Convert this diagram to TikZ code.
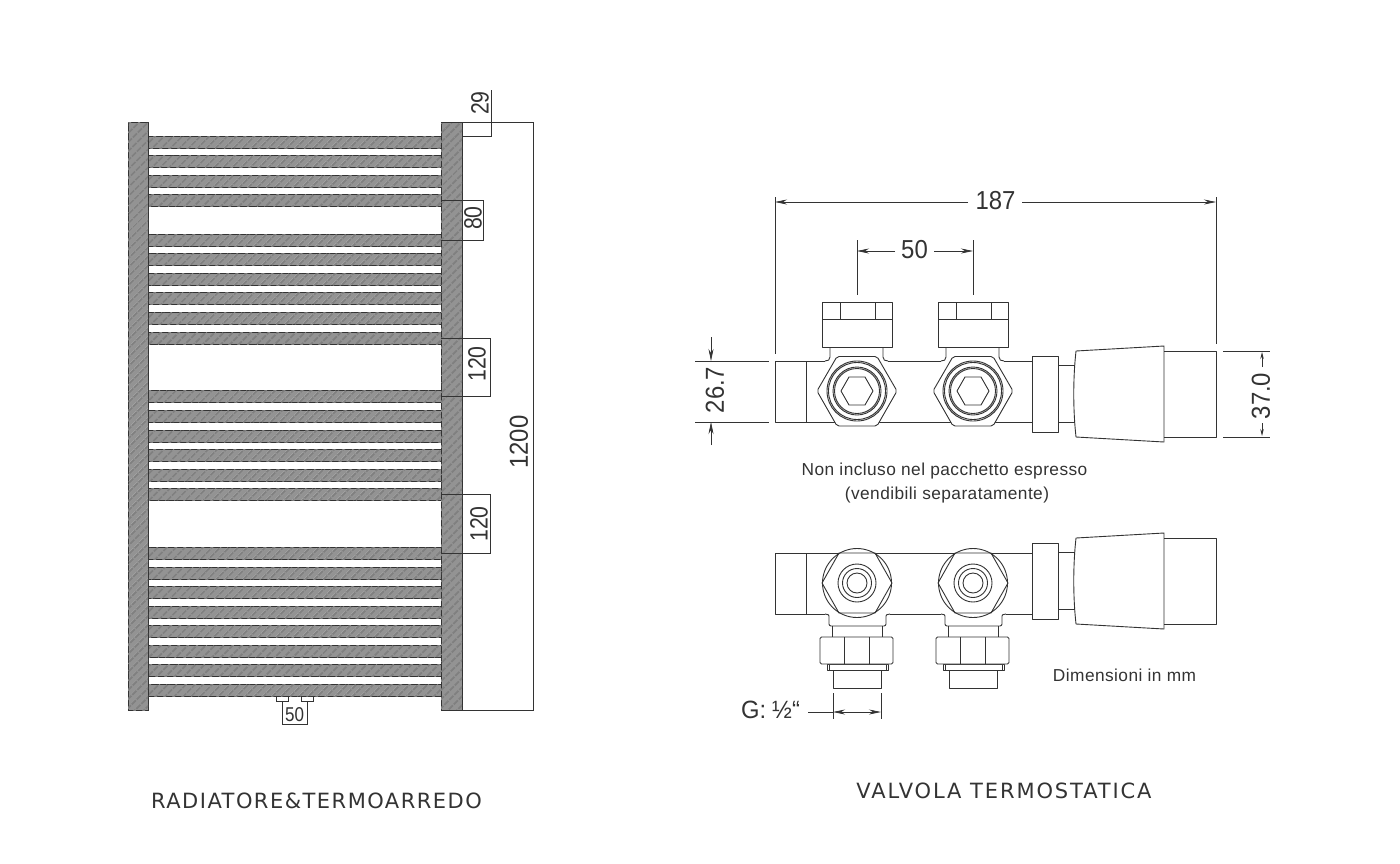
\documentclass[tikz,border=0pt]{standalone}
\usepackage{fontspec}
\usepackage{graphicx}
\setmainfont{Liberation Sans}
\newfontfamily\capfont{DejaVu Sans}
\usetikzlibrary{arrows.meta,patterns.meta}
\definecolor{ink}{HTML}{333333}
\definecolor{hatchbg}{HTML}{939393}
\definecolor{hatchdk}{HTML}{808080}
\newcommand{\nar}[2][.85]{\scalebox{#1}[1]{#2}}
\tikzset{
  hatched/.style={draw=ink,line width=0.8pt,fill=hatchbg,
    postaction={pattern={Lines[angle=45,distance=6.5pt,line width=2pt]},pattern color=hatchdk}},
  part/.style={draw=ink,line width=0.9pt,line join=round},
  partw/.style={part,fill=white},
  dim/.style={draw=ink,line width=0.7pt},
  tip/.style={dim,-{Stealth[length=12pt,width=5pt]}},
  tipsm/.style={dim,-{Stealth[length=7pt,width=3.5pt]}},
  dimtxt/.style={text=ink,font=\fontsize{26}{26}\selectfont,inner sep=0pt},
  dimsm/.style={text=ink,font=\fontsize{25}{25}\selectfont,inner sep=0pt},
  note/.style={text=ink,font=\fontsize{17.3}{19}\selectfont\addfontfeatures{LetterSpace=2.5},inner sep=0pt},
  captxt/.style={text=ink,inner sep=0pt}
}
\newcommand{\topvalve}[1]{%
  \begin{scope}[shift={(#1,0)}]
    \draw[part] (-35,302) rectangle (35,347);
    \draw[part] (-35,319) -- (35,319) (-17,302) -- (-17,319) (18,302) -- (18,319);
    \draw[part] (-27,347) -- (-27,357) .. controls (-27,360) and (-29,361) .. (-32,361);
    \draw[part] (26,347) -- (26,357) .. controls (26,360) and (28,361) .. (31,361);
    \draw[partw,rounded corners=2pt] (-40,391) -- (-20,356.5) -- (20,356.5) -- (40,391) -- (20,426) -- (-20,426) -- cycle;
    \draw[part] (0,391) circle (30) (0,391) circle (28.5) (0,391) circle (24) (0,391) circle (22.5);
    \draw[part] (-16,391) -- (-8,377) -- (8,377) -- (16,391) -- (8,405) -- (-8,405) -- cycle;
  \end{scope}}
\newcommand{\botvalve}[1]{%
  \begin{scope}[shift={(#1,0)}]
    \draw[part] (-24,670) rectangle (24,688);
    \draw[part] (-30,664) rectangle (31,670);
    \draw[part] (-28,664) -- (-28,670) (29,664) -- (29,670);
    \draw[partw,rounded corners=1.5pt] (-37,637) rectangle (36,664);
    \draw[part] (-13,637) -- (-13,664) (12,637) -- (12,664);
    \draw[part] (-25,626) -- (-25,637) (25,626) -- (25,637);
    \draw[part,rounded corners=2pt] (-32,614) .. controls (-29,614) and (-28,615) .. (-28,618) -- (-28,626) -- (29,626) -- (29,618) .. controls (29,615) and (30,614) .. (33,614);
    \draw[partw] (0,583) circle (34.5);
    \draw[part] (-35,583) -- (-18,553) -- (18,553) -- (35,583) -- (18,613) -- (-18,613) -- cycle;
    \draw[part] (0,583) circle (19) (0,583) circle (14.5) (0,583) circle (10);
  \end{scope}}
\begin{document}
\begin{tikzpicture}[x=1pt,y=-1pt]
\useasboundingbox[fill=white] (0,0) rectangle (1400,863);
% ---------- radiator
\foreach \t in {136,155,175,194,234,253,273,292,312,332,390,410,430,449,469,488,547,567,586,606,625,645,664,684}
  \draw[hatched] (148,\t) rectangle (441,\t+12);
\draw[hatched] (128,122) rectangle (148,710);
\draw[hatched] (441,122) rectangle (462,710);
\draw[dim] (276,696) -- (276,701) -- (288,701) -- (288,696) (301,696) -- (301,701) -- (313,701) -- (313,696);
\draw[dim] (282,701) -- (282,724) -- (307,724) -- (307,701);
\node[dimsm,font=\fontsize{20}{20}\selectfont] (d50a) at (294.5,715) {\nar{50}};
\draw[dim] (441,122) -- (533,122) -- (533,710) -- (441,710);
\draw[dim] (462,136) -- (491,136) -- (491,90);
\node[dimsm,rotate=90] (d29) at (480,103) {\nar{29}};
\draw[dim] (441,200) -- (483,200) -- (483,240) -- (441,240);
\node[dimsm,rotate=90] (d80) at (473,218) {\nar{80}};
\draw[dim] (441,338) -- (490,338) -- (490,396) -- (441,396);
\node[dimsm,rotate=90] (d120a) at (477,364) {\nar{120}};
\node[dimsm,rotate=90] (d120b) at (479,524) {\nar{120}};
\draw[dim] (441,494) -- (490,494) -- (490,553) -- (441,553);
\node[dimtxt,rotate=90] (d1200) at (519,442) {\nar[.92]{1200}};
\node[captxt,font=\capfont\fontsize{21}{22}\selectfont\addfontfeatures{LetterSpace=7}] (capa) at (316.5,801) {RADIATORE\&TERMOARREDO};
% ---------- top valve
\draw[part] (825,361) -- (775,361) -- (775,422) -- (1032,422);
\draw[part] (888,361) -- (941,361) (1004,361) -- (1032,361);
\draw[part] (806,361) -- (806,422);
\topvalve{857}
\topvalve{973}
\draw[part] (1032,356) rectangle (1058,432);
\draw[part] (1058,365) -- (1075,365) (1058,422) -- (1075,422);
\draw[part] (1076,351) -- (1164,346) -- (1164,442) -- (1076,437) .. controls (1073,410) and (1073,378) .. (1076,351);
\draw[part] (1164,351) -- (1216,351) -- (1216,437) -- (1164,437);
\draw[dim] (775,197) -- (775,354) (1216,197) -- (1216,344);
\node[dimtxt] (d187) at (995.5,201) {\nar[.92]{187}};
\draw[tip] (968,202) -- (775,202);
\draw[tip] (1022,202) -- (1216,202);
\draw[dim] (857,240) -- (857,295) (973,240) -- (973,295);
\node[dimtxt] (d50b) at (914.5,250) {\nar[.92]{50}};
\draw[tip] (895,251) -- (857,251);
\draw[tip] (934,251) -- (973,251);
\draw[dim] (695,361) -- (769,361) (695,422) -- (769,422);
\draw[tip] (711,337) -- (711,361);
\draw[tip] (711,445) -- (711,422);
\node[dimtxt,rotate=90] (d267) at (715,390) {\nar[.92]{26.7}};
\draw[dim] (1223,351) -- (1270,351) (1223,437) -- (1270,437);
\draw[tipsm] (1262,367) -- (1262,352);
\draw[tipsm] (1262,423) -- (1262,436);
\node[dimtxt,rotate=90] (d370) at (1261,396) {\nar[.92]{37.0}};
\node[note] (n1) at (944.5,471) {Non incluso nel pacchetto espresso};
\node[note] (n2) at (947,495) {(vendibili separatamente)};
\node[note] (n3) at (1124.5,675) {Dimensioni in mm};
% ---------- bottom valve
\draw[part] (1032,553) -- (775,553) -- (775,614) -- (825,614);
\draw[part] (890,614) -- (941,614) (1006,614) -- (1032,614);
\draw[part] (806,553) -- (806,614);
\botvalve{857}
\botvalve{973}
\draw[part] (1032,543) rectangle (1058,619);
\draw[part] (1058,552) -- (1075,552) (1058,609) -- (1075,609);
\draw[part] (1076,538) -- (1164,533) -- (1164,629) -- (1076,624) .. controls (1073,597) and (1073,565) .. (1076,538);
\draw[part] (1164,538) -- (1216,538) -- (1216,624) -- (1164,624);
\draw[dim] (833,693) -- (833,719) (881,693) -- (881,719);
\draw[dim] (808,712) -- (833,712);
\draw[tip] (857,712) -- (833,712);
\draw[tip] (857,712) -- (881,712);
\node[dimsm,anchor=west] (gl) at (741,710) {\nar[.95]{G:}};
\node[dimsm,anchor=west] (gf) at (772,710) {\nar[.95]{½“}};
\node[captxt,font=\capfont\fontsize{21}{22}\selectfont\addfontfeatures{LetterSpace=9}] (capb) at (1004,791) {VALVOLA TERMOSTATICA};
\end{tikzpicture}
\end{document}
